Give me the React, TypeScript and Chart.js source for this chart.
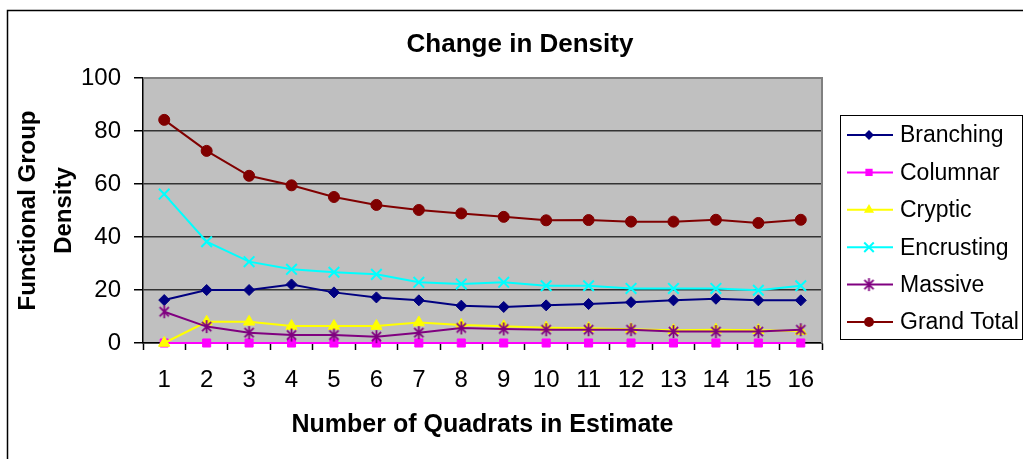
import React, { useEffect, useRef } from 'react';
import { Chart, registerables } from 'chart.js';

Chart.register(...registerables);

const categories = ['1', '2', '3', '4', '5', '6', '7', '8', '9', '10', '11', '12', '13', '14', '15', '16'];
const branching = [16.2, 20, 20, 22.1, 19.1, 17.2, 16.1, 14.1, 13.6, 14.2, 14.7, 15.4, 16.1, 16.7, 16.1, 16.1];
const columnar = [0, 0, 0, 0, 0, 0, 0, 0, 0, 0, 0, 0, 0, 0, 0, 0];
const cryptic = [0, 8.0, 8.0, 6.4, 6.4, 6.4, 7.7, 6.8, 6.3, 5.8, 5.6, 5.2, 4.8, 5.0, 4.8, 4.5];
const encrusting = [56.2, 38.2, 30.7, 27.8, 26.7, 25.9, 22.9, 22.3, 22.9, 21.6, 21.6, 20.6, 20.6, 20.6, 19.9, 21.6];
const massive = [11.8, 6.2, 3.9, 3.0, 3.0, 2.4, 3.9, 5.7, 5.3, 5.0, 5.0, 5.0, 4.3, 4.3, 4.3, 5.0];
const grandTotal = [84.2, 72.5, 63.1, 59.5, 55.1, 52.1, 50.2, 48.9, 47.6, 46.3, 46.4, 45.8, 45.8, 46.5, 45.3, 46.5];
const seriesNames = ['Branching', 'Columnar', 'Cryptic', 'Encrusting', 'Massive', 'Grand Total'];
const yTicks = [0, 20, 40, 60, 80, 100];

const chartTitle = 'Change in Density';
const xTitle = 'Number of Quadrats in Estimate';
const yTitle = ['Functional Group', 'Density'];

const FONT = "'Liberation Sans', Arial, sans-serif";
const colors = ['#000080', '#FF00FF', '#FFFF00', '#00FFFF', '#800080', '#800000'];

function makeAsterisk(color: string) {
  const c = document.createElement('canvas');
  c.width = 17;
  c.height = 17;
  const g = c.getContext('2d')!;
  g.strokeStyle = color;
  g.lineWidth = 1.8;
  const m = 8.5;
  const r = 6.5;
  const d = r * Math.SQRT1_2;
  g.beginPath();
  g.moveTo(m - d, m - d); g.lineTo(m + d, m + d);
  g.moveTo(m + d, m - d); g.lineTo(m - d, m + d);
  g.moveTo(m, m - r); g.lineTo(m, m + r);
  g.stroke();
  return c;
}

function drawMarker(ctx: CanvasRenderingContext2D, style: any, x: number, y: number, r: number, color: string) {
  ctx.save();
  ctx.fillStyle = color;
  ctx.strokeStyle = color;
  ctx.lineWidth = 2;
  if (typeof style !== 'string') {
    ctx.drawImage(style, x - style.width / 2, y - style.height / 2);
  } else if (style === 'rectRot') {
    ctx.beginPath();
    ctx.moveTo(x, y - r); ctx.lineTo(x + r, y); ctx.lineTo(x, y + r); ctx.lineTo(x - r, y);
    ctx.closePath(); ctx.fill();
  } else if (style === 'rect') {
    const s = r * Math.SQRT1_2;
    ctx.fillRect(x - s, y - s, 2 * s, 2 * s);
  } else if (style === 'triangle') {
    ctx.beginPath();
    let a = 0;
    ctx.moveTo(x + Math.sin(a) * r, y - Math.cos(a) * r);
    a += (2 * Math.PI) / 3;
    ctx.lineTo(x + Math.sin(a) * r, y - Math.cos(a) * r);
    a += (2 * Math.PI) / 3;
    ctx.lineTo(x + Math.sin(a) * r, y - Math.cos(a) * r);
    ctx.closePath(); ctx.fill();
  } else if (style === 'crossRot') {
    const d = r * Math.SQRT1_2;
    ctx.beginPath();
    ctx.moveTo(x - d, y - d); ctx.lineTo(x + d, y + d);
    ctx.moveTo(x + d, y - d); ctx.lineTo(x - d, y + d);
    ctx.stroke();
  } else {
    ctx.beginPath(); ctx.arc(x, y, r, 0, Math.PI * 2); ctx.fill();
  }
  ctx.restore();
}

export default function App() {
  const ref = useRef<HTMLCanvasElement>(null);

  useEffect(() => {
    const canvas = ref.current!;
    const asterisk = makeAsterisk(colors[4]);
    const styles: any[] = ['rectRot', 'rect', 'triangle', 'crossRot', asterisk, 'circle'];
    const radii = [5.5, 5.7, 6.5, 7.5, 7, 5.5];
    const seriesData = [branching, columnar, cryptic, encrusting, massive, grandTotal];

    const decor = {
      id: 'decor',
      beforeDraw(chart: any) {
        const { ctx, chartArea: a } = chart;
        ctx.save();
        ctx.fillStyle = '#ffffff';
        ctx.fillRect(0, 0, chart.width, chart.height);
        ctx.fillStyle = '#C0C0C0';
        ctx.fillRect(a.left, a.top, a.right - a.left, a.bottom - a.top);
        ctx.restore();
      },
      beforeDatasetsDraw(chart: any) {
        const { ctx, chartArea: a } = chart;
        ctx.save();
        ctx.strokeStyle = '#808080';
        ctx.lineWidth = 2;
        ctx.beginPath();
        ctx.moveTo(a.left, a.top);
        ctx.lineTo(a.right, a.top);
        ctx.lineTo(a.right, a.bottom);
        ctx.stroke();
        ctx.restore();
      },
      afterDraw(chart: any) {
        const { ctx } = chart;
        ctx.save();
        // outer border
        ctx.strokeStyle = '#000';
        ctx.lineWidth = 1.5;
        ctx.strokeRect(7.5, 10.5, 1200, 600);
        // title
        ctx.fillStyle = '#000';
        ctx.font = `bold 26px ${FONT}`;
        ctx.textAlign = 'center';
        ctx.textBaseline = 'middle';
        ctx.fillText(chartTitle, 520, 45);
        // legend
        ctx.lineWidth = 1;
        ctx.strokeRect(840.5, 115.5, 182, 224);
        ctx.font = `23px ${FONT}`;
        ctx.textAlign = 'left';
        seriesNames.forEach((name, i) => {
          const y = 135 + i * 37.4;
          ctx.strokeStyle = colors[i];
          ctx.lineWidth = 2;
          ctx.beginPath();
          ctx.moveTo(847, y);
          ctx.lineTo(893, y);
          ctx.stroke();
          drawMarker(ctx, styles[i], 869, y, radii[i] * 0.9, colors[i]);
          ctx.fillStyle = '#000';
          ctx.fillText(name, 900, y + 1);
        });
        ctx.restore();
      },
    };

    const chart = new Chart(canvas, {
      type: 'line',
      data: {
        labels: categories,
        datasets: seriesNames.map((name, i) => ({
          label: name,
          data: seriesData[i],
          borderColor: colors[i],
          backgroundColor: colors[i],
          borderWidth: 2,
          tension: 0,
          fill: false,
          pointStyle: styles[i],
          pointRadius: radii[i],
          pointHoverRadius: radii[i],
          pointBackgroundColor: colors[i],
          pointBorderColor: colors[i],
          pointBorderWidth: i === 3 ? 2 : 1,
          clip: false,
          order: 6 - i,
        })),
      },
      options: {
        responsive: false,
        animation: false,
        devicePixelRatio: 1,
        layout: { padding: { left: 11, top: 78, right: 201, bottom: 0 } },
        plugins: {
          legend: { display: false },
          title: { display: false },
          tooltip: { enabled: false },
        },
        events: [],
        scales: {
          x: {
            type: 'category',
            offset: true,
            grid: {
              display: true,
              drawOnChartArea: false,
              drawTicks: true,
              tickLength: 7,
              tickColor: '#000',
              tickWidth: 1.5,
              offset: true,
            },
            border: { display: true, color: '#000', width: 1.5 },
            ticks: {
              color: '#000',
              font: { size: 24, family: FONT },
              padding: 16,
              maxRotation: 0,
              autoSkip: false,
            },
            title: {
              display: true,
              text: xTitle,
              color: '#000',
              font: { size: 25, weight: 'bold', family: FONT },
              padding: { top: 0, bottom: 19 },
            },
            afterFit: (s: any) => {
              s.height = 116;
            },
          },
          y: {
            min: 0,
            max: 100,
            afterBuildTicks: (s: any) => {
              s.ticks = yTicks.map((v) => ({ value: v }));
            },
            ticks: { color: '#000', font: { size: 24, family: FONT }, padding: 13 },
            grid: {
              color: '#333333',
              lineWidth: 1.5,
              drawTicks: true,
              tickLength: 9,
              tickColor: '#000',
              tickWidth: 1.5,
            },
            border: { display: true, color: '#000', width: 1.5 },
            title: {
              display: true,
              text: yTitle,
              color: '#000',
              font: { size: 24, weight: 'bold', family: FONT, lineHeight: 1.48 },
              padding: 0,
            },
            afterFit: (s: any) => {
              s.width = 132;
            },
          },
        },
      },
      plugins: [decor],
    } as any);

    return () => chart.destroy();
  }, []);

  return (
    <div style={{ position: 'absolute', left: 0, top: 0, width: 1023, height: 459, background: '#fff' }}>
      <canvas ref={ref} width={1023} height={459} style={{ display: 'block', width: 1023, height: 459 }} />
    </div>
  );
}
